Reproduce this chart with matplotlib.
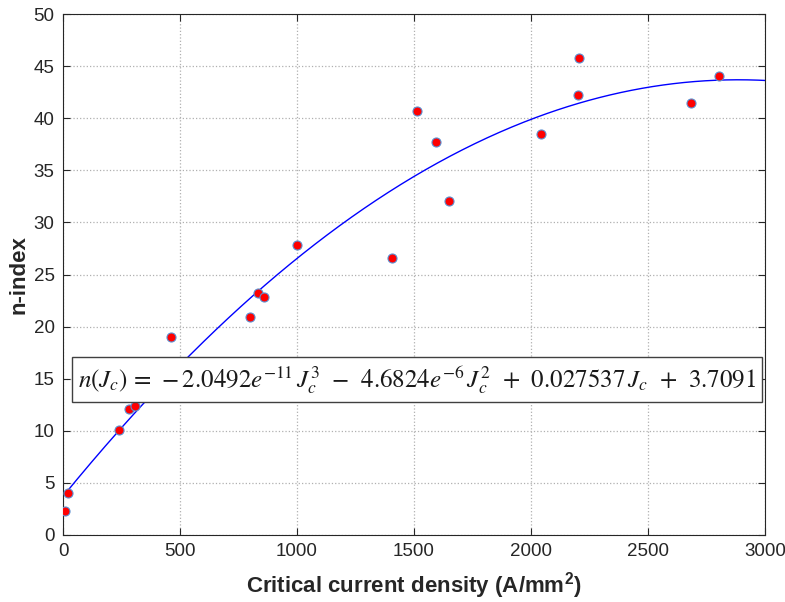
import numpy as np
import matplotlib
matplotlib.use("Agg")
import matplotlib.pyplot as plt

# Measured points (critical current density vs n-index)
jc_values = [8, 21, 240, 282, 308, 462, 799, 833, 859, 1000,
             1406, 1513, 1594, 1650, 2043, 2201, 2205, 2684, 2803]
n_values = [2.3, 4.0, 10.1, 12.1, 12.4, 19.0, 20.9, 23.2, 22.8, 27.8,
            26.6, 40.7, 37.7, 32.1, 38.5, 42.2, 45.8, 41.5, 44.1]

# Cubic fit coefficients, highest power first
fit_coefficients = [-2.0492e-11, -4.6824e-6, 0.027537, 3.7091]

x_ticks = [0, 500, 1000, 1500, 2000, 2500, 3000]
y_ticks = [0, 5, 10, 15, 20, 25, 30, 35, 40, 45, 50]

TEXT_COLOR = "#262626"
plt.rcParams["font.family"] = ["Liberation Sans", "DejaVu Sans"]
plt.rcParams["mathtext.fontset"] = "stix"

figure = plt.figure(figsize=(7.85, 6.02), dpi=100)
axis = figure.add_axes([0.0803, 0.1113, 0.8942, 0.8654])

jc_line = np.linspace(0, 3000, 400)
axis.plot(jc_line, np.polyval(fit_coefficients, jc_line), color="#0000ff", linewidth=1.0, zorder=2)
axis.plot(jc_values, n_values, linestyle="none", marker="o", markersize=6.5,
          markerfacecolor="#ff0000", markeredgecolor="#5b8fd0", markeredgewidth=0.8, zorder=3)

axis.set_xlim(0, 3000)
axis.set_ylim(0, 50)
axis.set_xticks(x_ticks)
axis.set_yticks(y_ticks)
axis.grid(True, linestyle=":", color="#b0b0b0", linewidth=0.9)
axis.set_axisbelow(True)
axis.tick_params(direction="in", top=True, right=True, length=5, width=0.8,
                 labelsize=13.5, colors=TEXT_COLOR, pad=6)
for spine in axis.spines.values():
    spine.set_color(TEXT_COLOR)
    spine.set_linewidth(0.8)

axis.set_xlabel(r"Critical current density (A/mm$^\mathregular{2}$)", fontsize=16,
                fontweight="bold", color=TEXT_COLOR, labelpad=7)
axis.set_ylabel("n-index", fontsize=16, fontweight="bold", color=TEXT_COLOR, labelpad=3)

equation = (r"$n(J_c)\,=\,-2.0492e^{-11}\,J_c^3\;\,-\;\,4.6824e^{-6}\,J_c^2"
            r"\;\,+\;\,0.027537\,J_c\;\,+\;\,3.7091$")
axis.text(1513, 14.9, equation, fontsize=18, ha="center", va="center", color="#1a1a1a",
          bbox=dict(boxstyle="square,pad=0.25", facecolor="white", edgecolor="#404040", linewidth=1.0),
          zorder=4)

figure.savefig("out.png", dpi=100)
